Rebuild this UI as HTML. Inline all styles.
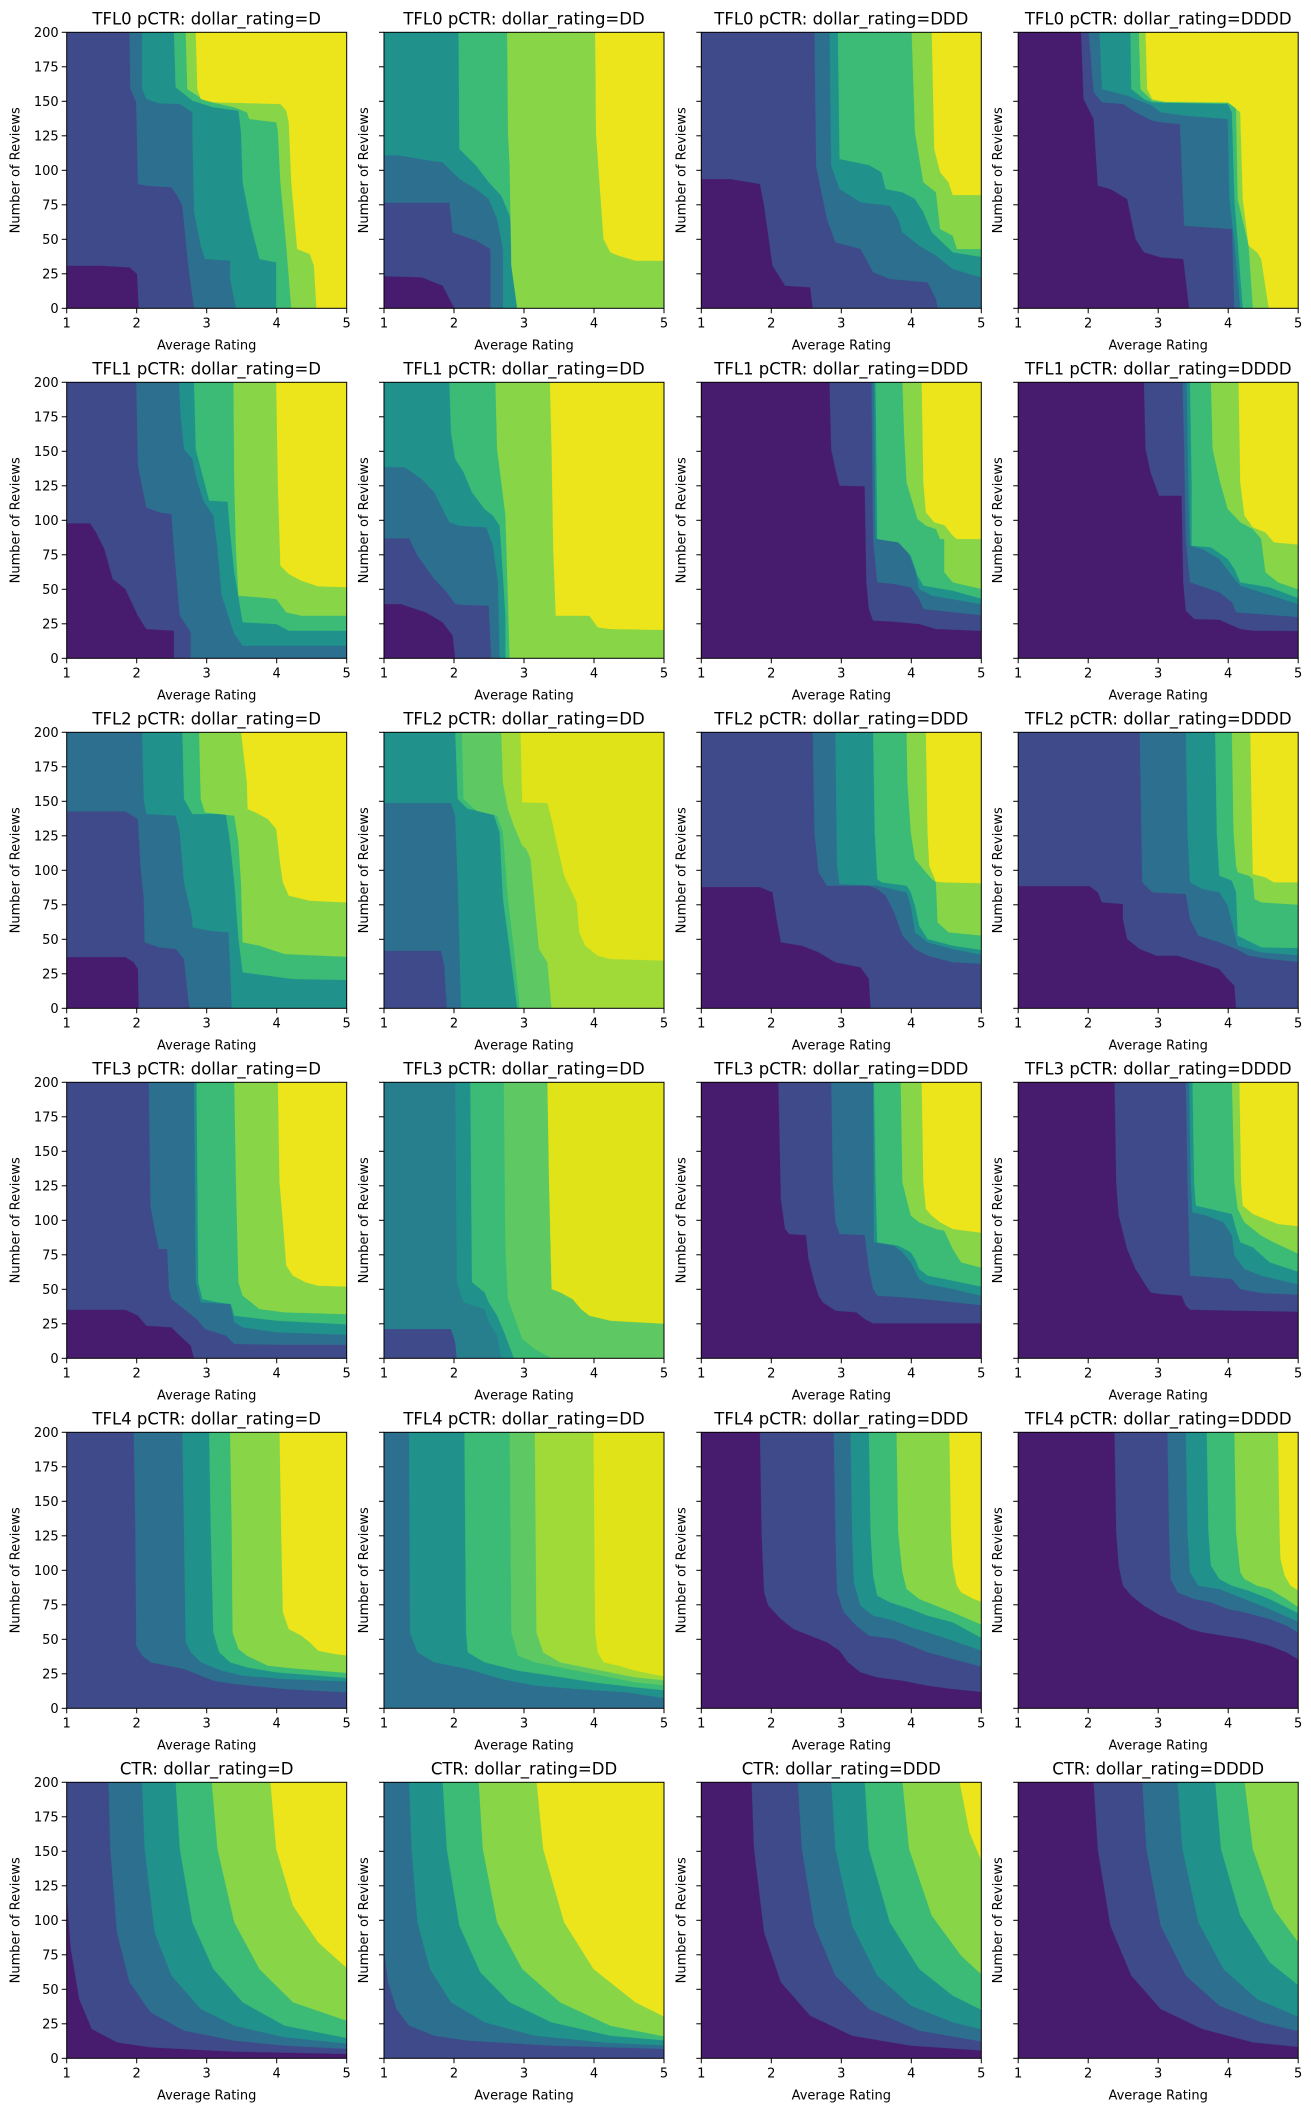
<!DOCTYPE html>
<html><head><meta charset="utf-8"><style>
html,body{margin:0;padding:0;background:#fff}
svg text{font-family:"DejaVu Sans","Liberation Sans",sans-serif;fill:#000}
</style></head><body>
<svg id="main" xmlns="http://www.w3.org/2000/svg" width="1311" height="2111" viewBox="0 0 1311 2111"></svg>
<script>
var C=['#471c6e','#3e4a89','#2d6f8e','#21918c','#3bbb75','#89d548','#ece51b'];
var P=[
// row0
[0,[[1,[[-5,700],[40,700],[75,705],[84,725],[86,828]]],
[2,[[75,-5],[76,170],[83,210],[85,455],[95,460],[125,465],[133,495],[138,520],[145,700],[152,828]]],
[3,[[90,-5],[90,170],[95,200],[110,213],[135,215],[150,240],[150,300],[152,540],[160,640],[165,680],[195,685],[195,740],[202,828]]],
[4,[[128,-5],[130,165],[150,205],[175,225],[205,235],[208,300],[210,450],[220,580],[230,680],[250,690],[250,828]]],
[5,[[142,-5],[144,170],[165,205],[200,225],[215,240],[218,260],[250,270],[252,295],[255,450],[262,640],[268,828]]],
[6,[[154,-5],[156,170],[160,200],[175,210],[210,212],[255,215],[262,235],[265,270],[268,450],[275,650],[290,665],[295,700],[298,828]]]]],
[0,[[1,[[-5,731],[45,735],[70,760],[84,828]]],
[2,[[-5,511],[78,511],[82,600],[110,625],[127,650],[127,828]]],
[3,[[-5,368],[20,370],[55,385],[70,390],[90,440],[110,470],[125,500],[135,560],[142,650],[142,828]]],
[4,[[89,-5],[90,350],[110,400],[125,450],[140,490],[150,550],[155,650],[159,828]]],
[5,[[147,-5],[148,300],[150,400],[152,700],[159,828]]],
[6,[[252,-5],[253,300],[258,480],[262,620],[270,660],[280,670],[300,685],[340,685]]]]],
[0,[[1,[[-5,440],[35,440],[70,455],[75,520],[85,700],[100,760],[130,765],[133,828]]],
[2,[[135,-5],[137,400],[145,500],[150,560],[160,630],[190,650],[205,720],[225,740],[270,750],[280,800],[282,828]]],
[3,[[153,-5],[155,400],[165,470],[190,510],[225,520],[235,560],[240,600],[260,640],[280,670],[300,710],[340,740]]],
[4,[[163,-5],[165,380],[200,398],[215,420],[220,470],[240,480],[255,500],[265,540],[275,600],[300,660],[340,676]]],
[5,[[251,-5],[255,300],[265,450],[280,480],[285,590],[300,610],[305,650],[340,650]]],
[6,[[275,-5],[278,350],[285,420],[295,450],[300,488],[340,488]]]]],
[0,[[1,[[75,-5],[78,200],[90,260],[95,460],[110,470],[130,500],[140,620],[150,660],[170,675],[197,680],[204,828]]],
[2,[[84,-5],[90,180],[100,210],[125,215],[140,240],[160,265],[170,270],[193,275],[195,400],[198,580],[255,590],[258,828]]],
[3,[[97,-5],[100,170],[130,190],[160,220],[170,240],[200,250],[250,260],[252,500],[258,630],[265,828]]],
[4,[[134,-5],[135,170],[150,200],[160,210],[250,215],[255,240],[258,500],[268,828]]],
[5,[[144,-5],[146,170],[160,205],[175,210],[255,212],[260,230],[262,500],[275,640],[280,828]]],
[6,[[152,-5],[154,170],[160,200],[175,208],[250,210],[258,225],[265,240],[268,500],[275,640],[285,660],[290,680],[299,828]]]]],
// row1
[0,[[1,[[-5,423],[28,423],[35,450],[45,500],[55,590],[70,620],[85,700],[95,740],[128,745],[128,828]]],
[2,[[83,-5],[85,250],[95,375],[110,390],[125,395],[128,500],[135,700],[148,750],[148,828]]],
[3,[[134,-5],[136,100],[140,200],[150,230],[155,290],[163,355],[175,400],[180,500],[185,640],[200,755],[210,790],[340,790]]],
[4,[[152,-5],[154,200],[170,355],[192,358],[195,450],[200,570],[210,720],[250,725],[265,745],[340,745]]],
[5,[[199,-5],[200,300],[202,500],[205,640],[230,645],[250,650],[262,690],[280,700],[340,700]]],
[6,[[250,-5],[252,300],[255,550],[265,575],[280,595],[300,612],[340,615]]]]],
[0,[[1,[[-5,665],[20,665],[50,690],[70,720],[82,760],[85,828]]],
[2,[[-5,468],[30,468],[40,520],[60,590],[75,630],[85,665],[98,668],[125,670],[128,828]]],
[3,[[-5,254],[25,255],[45,290],[60,330],[70,380],[78,420],[90,430],[122,435],[130,490],[136,600],[138,828]]],
[4,[[78,-5],[80,150],[85,230],[95,270],[105,330],[120,380],[130,400],[138,430],[140,500],[145,700],[145,828]]],
[5,[[133,-5],[135,200],[140,300],[145,400],[150,828]]],
[6,[[198,-5],[200,200],[202,500],[205,700],[245,700],[255,735],[270,740],[340,743]]]]],
[0,[[1,[[153,-5],[155,200],[160,260],[165,310],[195,312],[197,600],[200,680],[205,715],[230,718],[260,725],[280,740],[340,746]]],
[2,[[203,-5],[205,470],[210,600],[230,605],[250,615],[260,650],[265,680],[340,700]]],
[3,[[206,-5],[208,470],[230,470],[245,500],[255,560],[260,620],[275,640],[340,668]]],
[4,[[208,-5],[210,470],[235,480],[250,520],[258,580],[265,610],[300,625],[340,653]]],
[5,[[240,-5],[242,150],[245,300],[258,410],[268,430],[280,440],[285,470],[290,470],[290,570],[300,600],[340,623]]],
[6,[[263,-5],[265,300],[268,390],[278,420],[290,428],[300,460],[305,470],[340,470]]]]],
[0,[[1,[[150,-5],[152,200],[158,270],[168,340],[195,340],[197,600],[200,685],[210,710],[240,712],[265,740],[280,745],[340,746]]],
[2,[[196,-5],[198,200],[200,470],[205,600],[240,630],[255,660],[260,690],[340,705]]],
[3,[[201,-5],[203,300],[205,490],[220,500],[240,530],[255,580],[265,610],[340,670]]],
[4,[[205,-5],[207,300],[207,490],[230,495],[250,530],[258,560],[265,600],[300,615],[340,653]]],
[5,[[230,-5],[232,200],[240,290],[250,380],[265,420],[280,440],[290,470],[295,570],[310,600],[340,626]]],
[6,[[263,-5],[265,300],[270,400],[280,435],[295,450],[305,480],[340,488]]]]],
// row2
[0,[[1,[[-5,674],[70,674],[80,690],[85,710],[86,828]]],
[2,[[-5,237],[70,237],[85,260],[88,400],[92,500],[93,630],[110,645],[130,650],[140,680],[145,800],[147,828]]],
[3,[[90,-5],[92,200],[95,245],[130,250],[135,300],[140,450],[150,560],[150,585],[170,595],[193,600],[195,700],[197,828]]],
[4,[[138,-5],[140,200],[150,245],[190,245],[195,330],[200,450],[205,620],[210,720],[240,730],[270,740],[340,743]]],
[5,[[158,-5],[160,200],[165,240],[200,250],[205,330],[208,450],[210,630],[230,640],[260,665],[340,674]]],
[6,[[208,-5],[215,150],[216,230],[225,240],[240,260],[250,290],[255,400],[258,450],[265,490],[290,505],[340,511]]]]],
[1,[[2,[[-5,655],[68,655],[72,700],[75,828]]],
[3,[[-5,212],[80,212],[85,250],[88,450],[92,828]]],
[4,[[85,-5],[88,200],[100,230],[130,240],[138,300],[142,500],[150,650],[159,828]]],
['#5ec962',[[93,-5],[95,200],[110,235],[135,250],[142,300],[148,500],[155,650],[162,828]]],
['#a0da39',[[140,-5],[142,150],[148,230],[155,280],[165,340],[170,350],[175,380],[180,520],[185,650],[195,690],[200,828]]],
['#dfe318',[[163,-5],[165,210],[195,212],[200,260],[205,320],[215,430],[230,510],[233,600],[240,640],[255,670],[270,680],[340,685]]]]],
[0,[[1,[[-5,464],[70,464],[85,480],[90,560],[95,630],[120,640],[140,660],[160,690],[190,705],[200,740],[202,828]]],
[2,[[133,-5],[135,300],[140,420],[150,460],[200,460],[210,470],[220,490],[230,540],[240,610],[255,650],[270,670],[300,690],[340,695]]],
[3,[[160,-5],[162,400],[165,455],[210,460],[245,480],[250,520],[255,600],[270,630],[300,650],[340,670]]],
[4,[[205,-5],[207,300],[210,440],[215,450],[245,460],[250,480],[255,520],[260,580],[270,620],[300,640],[340,655]]],
[5,[[245,-5],[246,150],[250,300],[255,380],[268,420],[275,440],[280,450],[282,570],[295,600],[340,611]]],
[6,[[268,-5],[270,300],[272,400],[280,448],[290,450],[340,453]]]]],
[0,[[1,[[-5,461],[85,461],[95,480],[100,510],[125,515],[125,560],[130,620],[145,650],[165,670],[190,670],[215,690],[240,710],[250,740],[258,760],[260,828]]],
[2,[[145,-5],[148,450],[160,480],[200,485],[205,560],[215,610],[240,630],[260,650],[275,670],[300,680],[340,690]]],
[3,[[200,-5],[202,300],[205,450],[220,470],[240,480],[250,520],[258,600],[262,640],[290,660],[340,670]]],
[4,[[235,-5],[237,300],[240,430],[255,445],[260,480],[262,610],[290,645],[340,647]]],
[5,[[255,-5],[257,300],[260,400],[262,420],[275,430],[280,440],[282,500],[290,510],[340,518]]],
[6,[[277,-5],[279,300],[280,425],[295,435],[305,450],[340,450]]]]],
// row3
[0,[[1,[[-5,682],[70,682],[85,700],[95,730],[125,735],[135,760],[148,790],[152,828]]],
[2,[[98,-5],[100,370],[105,440],[110,500],[120,500],[122,620],[125,650],[135,670],[145,690],[155,710],[165,740],[190,760],[200,785],[250,787],[340,787]]],
[3,[[152,-5],[154,600],[160,660],[195,665],[200,720],[210,735],[250,750],[340,758]]],
[4,[[155,-5],[157,600],[162,650],[180,660],[196,665],[200,700],[250,715],[340,727]]],
[5,[[200,-5],[202,300],[205,600],[210,640],[230,680],[260,690],[340,696]]],
[6,[[252,-5],[254,300],[258,420],[262,550],[270,580],[285,600],[300,610],[340,613]]]]],
[1,[['#277f8e',[[-5,693],[80,693],[85,740],[87,828]]],
['#277f8e',[[-5,-5],[-5,740],[80,740],[85,780],[87,828]]],
[3,[[85,-5],[87,600],[95,660],[120,680],[125,720],[135,760],[140,828]]],
[4,[[103,-5],[105,600],[120,630],[125,660],[135,700],[145,760],[155,828]]],
['#5ec962',[[143,-5],[145,500],[148,650],[158,720],[165,770],[180,800],[200,828]]],
['#dfe318',[[195,-5],[197,300],[200,620],[210,630],[225,650],[235,680],[245,700],[270,715],[340,725]]]]],
[0,[[1,[[92,-5],[95,350],[100,440],[105,455],[125,458],[128,530],[135,600],[140,640],[145,660],[160,685],[185,690],[195,710],[205,723],[340,723]]],
[2,[[155,-5],[157,300],[160,420],[165,455],[195,458],[200,560],[205,620],[210,640],[240,645],[265,650],[340,670]]],
[3,[[205,-5],[206,480],[230,490],[240,510],[250,540],[260,590],[270,605],[300,620],[340,644]]],
[4,[[206,-5],[208,300],[210,480],[235,490],[250,510],[255,530],[260,560],[270,580],[300,595],[340,616]]],
[5,[[238,-5],[240,300],[245,350],[250,400],[260,420],[270,430],[280,440],[290,445],[300,500],[310,540],[340,560]]],
[6,[[263,-5],[265,300],[268,380],[275,400],[285,420],[300,440],[340,453]]]]],
[0,[[1,[[115,-5],[117,300],[120,400],[125,450],[130,500],[140,560],[150,600],[158,630],[170,635],[195,640],[200,670],[205,682],[260,685],[340,688]]],
[2,[[200,-5],[202,300],[205,580],[230,585],[255,590],[265,620],[290,632],[340,638]]],
[3,[[204,-5],[206,300],[208,390],[225,400],[245,420],[255,460],[258,520],[270,560],[290,580],[340,610]]],
[4,[[208,-5],[210,300],[212,370],[230,380],[255,395],[260,440],[265,480],[280,495],[300,540],[340,573]]],
[5,[[255,-5],[258,300],[262,380],[270,420],[280,440],[290,460],[305,480],[340,521]]],
[6,[[264,-5],[266,300],[268,370],[280,395],[295,410],[310,425],[340,433]]]]],
// row4
[1,[[2,[[80,-5],[82,300],[83,640],[90,670],[100,690],[120,700],[140,710],[160,730],[175,745],[200,755],[260,770],[340,781]]],
[3,[[138,-5],[140,300],[142,630],[148,660],[160,690],[185,715],[210,730],[260,740],[340,748]]],
[4,[[170,-5],[172,300],[175,600],[182,660],[195,690],[215,705],[250,720],[340,738]]],
[5,[[195,-5],[197,300],[198,600],[205,650],[215,670],[240,700],[270,708],[340,723]]],
[6,[[254,-5],[256,300],[258,540],[265,590],[280,610],[290,630],[300,655],[320,665],[340,671]]]]],
[2,[[3,[[30,-5],[31,600],[40,660],[60,690],[100,710],[140,740],[180,760],[230,770],[290,780],[340,800]]],
[4,[[96,-5],[98,600],[100,660],[120,690],[160,715],[200,730],[250,750],[300,765],[340,775]]],
['#5ec962',[[150,-5],[152,600],[160,670],[180,690],[220,710],[260,730],[300,750],[340,760]]],
['#a0da39',[[180,-5],[182,600],[190,660],[210,690],[240,705],[270,720],[300,735],[340,745]]],
['#dfe318',[[250,-5],[252,600],[255,660],[262,690],[280,700],[300,715],[320,725],[340,735]]]]],
[0,[[1,[[70,-5],[72,300],[75,480],[80,520],[95,560],[110,590],[130,610],[150,630],[165,655],[175,690],[190,720],[210,735],[240,745],[270,760],[300,770],[340,780]]],
[2,[[158,-5],[160,300],[162,480],[170,540],[185,580],[200,610],[230,620],[250,640],[270,660],[300,680],[340,707]]],
[3,[[178,-5],[180,300],[182,450],[190,520],[205,550],[230,565],[250,585],[270,600],[300,625],[340,660]]],
[4,[[200,-5],[202,300],[205,430],[210,490],[225,510],[250,530],[270,550],[300,570],[340,625]]],
[5,[[233,-5],[235,300],[240,420],[245,470],[260,500],[280,520],[300,540],[340,583]]],
[6,[[296,-5],[298,300],[300,400],[305,460],[310,480],[325,500],[340,513]]]]],
[0,[[1,[[115,-5],[117,300],[120,400],[125,460],[135,490],[150,520],[170,550],[190,570],[205,590],[220,600],[245,610],[270,620],[300,640],[320,660],[340,690]]],
[2,[[178,-5],[180,300],[182,440],[190,480],[210,500],[230,510],[250,530],[270,540],[300,560],[320,580],[340,610]]],
[3,[[200,-5],[202,300],[205,420],[215,460],[240,470],[260,490],[280,510],[300,530],[340,575]]],
[4,[[225,-5],[227,300],[230,400],[240,440],[255,460],[275,475],[300,500],[340,550]]],
[5,[[258,-5],[260,300],[265,420],[270,440],[285,460],[300,470],[320,500],[340,535]]],
[6,[[310,-5],[312,300],[313,380],[318,430],[325,460],[340,483]]]]],
// row5
[0,[[1,[[-5,320],[0,330],[5,500],[15,650],[30,740],[60,780],[100,795],[200,808],[340,815]]],
[2,[[50,-5],[52,200],[60,450],[75,600],[100,690],[140,745],[200,775],[260,790],[340,800]]],
[3,[[90,-5],[93,200],[105,450],[125,580],[160,680],[200,730],[260,765],[340,785]]],
[4,[[130,-5],[135,200],[150,420],[175,560],[210,660],[260,730],[340,770]]],
[5,[[173,-5],[180,200],[200,420],[230,560],[270,660],[340,720]]],
[6,[[243,-5],[250,200],[270,370],[300,480],[340,570]]]]],
[1,[[2,[[-5,500],[0,500],[5,600],[15,680],[30,730],[60,760],[100,775],[200,790],[340,800]]],
[3,[[30,-5],[33,200],[40,420],[55,560],[80,660],[120,720],[180,760],[260,780],[340,790]]],
[4,[[70,-5],[75,200],[90,430],[115,570],[150,660],[200,720],[270,760],[340,775]]],
[5,[[113,-5],[118,200],[135,420],[165,560],[210,660],[270,730],[340,765]]],
[6,[[182,-5],[190,200],[215,420],[250,560],[300,660],[340,710]]]]],
[0,[[1,[[60,-5],[63,200],[75,450],[95,600],[130,700],[180,760],[250,790],[340,805]]],
[2,[[115,-5],[120,200],[135,430],[160,580],[200,680],[260,745],[340,780]]],
[3,[[155,-5],[160,200],[180,430],[210,580],[250,670],[300,720],[340,745]]],
[4,[[195,-5],[200,200],[225,420],[260,560],[300,640],[340,690]]],
[5,[[240,-5],[248,200],[275,400],[310,520],[340,590]]],
[6,[[308,-5],[320,150],[335,240],[340,260]]]]],
[0,[[1,[[90,-5],[95,200],[110,430],[135,580],[170,680],[220,740],[280,780],[340,795]]],
[2,[[148,-5],[153,200],[170,430],[200,580],[240,670],[290,720],[340,750]]],
[3,[[190,-5],[196,200],[215,420],[245,560],[285,650],[340,710]]],
[4,[[235,-5],[242,200],[265,400],[300,540],[340,620]]],
[5,[[270,-5],[280,200],[305,380],[340,500]]]]]
];
var titles=['TFL0 pCTR','TFL1 pCTR','TFL2 pCTR','TFL3 pCTR','TFL4 pCTR','CTR'];
var dr=['D','DD','DDD','DDDD'];
var colX=[66.7,384,701.3,1018.2],W=280,H=276;
var s='';
function col(c){return typeof c==='number'?C[c]:c;}
for(var r=0;r<6;r++){for(var c=0;c<4;c++){
 var p=P[r*4+c],x0=colX[c],y0=32.3+r*350;
 s+='<svg x="'+x0+'" y="'+y0+'" width="'+W+'" height="'+H+'" viewBox="0 0 334 828" preserveAspectRatio="none">';
 s+='<rect x="0" y="0" width="334" height="828" fill="'+col(p[0])+'"/>';
 p[1].forEach(function(l){var pts=l[1].slice();var f=pts[0],la=pts[pts.length-1];
  pts.push([400,la[1]>=828?900:la[1]]);pts.push([400,-50]);pts.push([f[0],-50]);
  s+='<polygon fill="'+col(l[0])+'" stroke="'+col(l[0])+'" stroke-width="0.5" points="'+pts.map(function(q){return q.join(',')}).join(' ')+'"/>';});
 s+='</svg>';
 s+='<rect x="'+x0+'" y="'+y0+'" width="'+W+'" height="'+H+'" fill="none" stroke="#000" stroke-width="1"/>';
 s+='<text x="'+(x0+W/2)+'" y="'+(y0-8)+'" font-size="16.5" text-anchor="middle">'+titles[r]+': dollar_rating='+dr[c]+'</text>';
 for(var i=0;i<5;i++){var tx=x0+i*W/4;
  s+='<line x1="'+tx+'" y1="'+(y0+H)+'" x2="'+tx+'" y2="'+(y0+H+5)+'" stroke="#000"/>';
  s+='<text x="'+tx+'" y="'+(y0+H+19)+'" font-size="13" text-anchor="middle">'+(i+1)+'</text>';}
 for(var j=0;j<=8;j++){var ty=y0+H-j*H/8;
  s+='<line x1="'+(x0-5)+'" y1="'+ty+'" x2="'+x0+'" y2="'+ty+'" stroke="#000"/>';
  if(c==0)s+='<text x="'+(x0-8)+'" y="'+(ty+4.5)+'" font-size="13" text-anchor="end">'+(j*25)+'</text>';}
 s+='<text x="'+(x0+W/2)+'" y="'+(y0+H+41)+'" font-size="13" text-anchor="middle">Average Rating</text>';
 var lx=c==0?x0-47:x0-16;
 s+='<text x="'+lx+'" y="'+(y0+H/2)+'" font-size="13" text-anchor="middle" transform="rotate(-90 '+lx+' '+(y0+H/2)+')">Number of Reviews</text>';
}}
document.getElementById('main').innerHTML=s;
</script>
</body></html>
